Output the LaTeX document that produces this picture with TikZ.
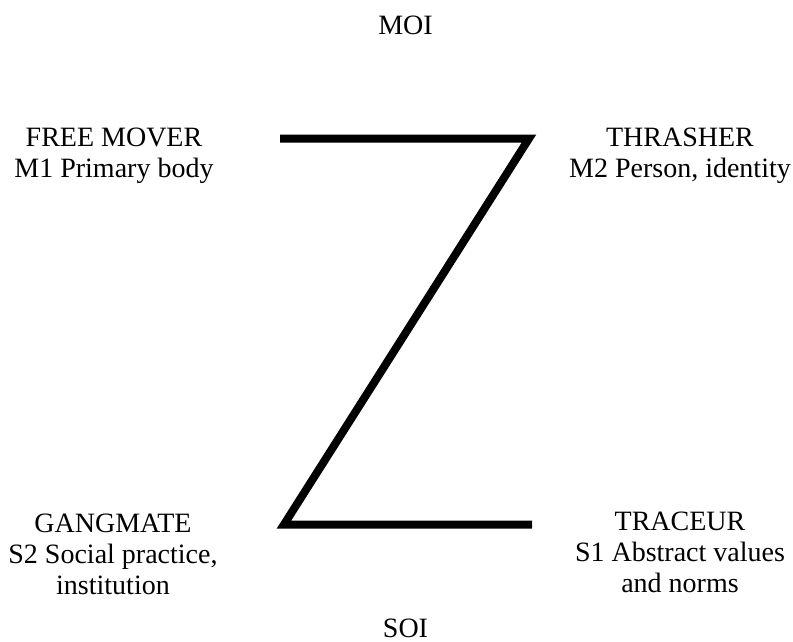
\documentclass[tikz,border=0pt]{standalone}
\usepackage{fontspec}
\setmainfont{Liberation Serif}
\begin{document}
\begin{tikzpicture}[x=1pt,y=-1pt,
  lbl/.style={align=center,inner sep=0pt,anchor=base,font=\fontsize{28}{31}\selectfont},
  zline/.style={line width=8pt,line join=miter,line cap=butt}]
\useasboundingbox (0,0) rectangle (793,642);
% axis labels (anchored on the baseline; multi-line nodes use their last line)
\node[lbl] (moi) at (405.5,35) {MOI};
\node[lbl] (soi) at (405.5,637) {SOI};
% four corner types
\node[lbl] (free) at (114,177) {FREE MOVER\\M1 Primary body};
\node[lbl] (thr) at (680,177) {THRASHER\\M2 Person, identity};
\node[lbl] (gang) at (113,594) {GANGMATE\\S2 Social practice,\\institution};
\node[lbl] (trac) at (680,592) {TRACEUR\\S1 Abstract values\\and norms};
% the Z path
\coordinate (tl) at (280,138.5);
\coordinate (tr) at (529,138.5);
\coordinate (bl) at (284,524.5);
\coordinate (br) at (532,524.5);
\draw[zline] (tl) -- (tr) -- (bl) -- (br);
\end{tikzpicture}
\end{document}
